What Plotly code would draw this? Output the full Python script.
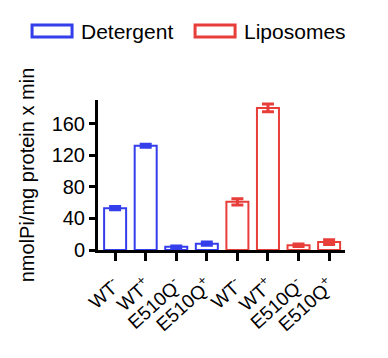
import plotly.graph_objects as go

labels = ["WT<sup>-</sup>", "WT<sup>+</sup>", "E510Q<sup>-</sup>", "E510Q<sup>+</sup>"]
detergent = [53, 132, 4, 8]
detergent_err = [2, 2, 1, 2]
liposomes = [61, 180, 6, 10]
liposomes_err = [4, 5, 1.5, 3]

blue = "rgb(52,62,235)"
red = "rgb(232,62,58)"
font = "Liberation Sans, Arial, sans-serif"

pos_det = list(range(4))
pos_lip = list(range(4, 8))

fig = go.Figure()
fig.add_trace(go.Bar(
    x=pos_det, y=detergent, width=0.72, name="Detergent",
    marker=dict(color="white", line=dict(color=blue, width=2)),
    error_y=dict(type="data", array=detergent_err, color=blue, thickness=3, width=6),
))
fig.add_trace(go.Bar(
    x=pos_lip, y=liposomes, width=0.72, name="Liposomes",
    marker=dict(color="white", line=dict(color=red, width=2)),
    error_y=dict(type="data", array=liposomes_err, color=red, thickness=3, width=6),
))

fig.update_layout(
    width=388, height=358,
    margin=dict(l=90, r=51, t=92, b=116),
    plot_bgcolor="white", paper_bgcolor="white",
    showlegend=False,
    font=dict(family=font, color="black"),
)
fig.update_xaxes(
    range=[-0.56, 7.52], automargin=False,
    tickvals=pos_det + pos_lip, ticktext=labels + labels,
    tickangle=-42, tickfont=dict(size=19), ticklabelstandoff=6,
    showline=True, linecolor="black", linewidth=3,
    ticks="outside", ticklen=8, tickwidth=3, tickcolor="black",
    showgrid=False, zeroline=False,
)
fig.update_yaxes(
    range=[0, 190], automargin=False,
    tickvals=[0, 40, 80, 120, 160],
    tickfont=dict(size=20),
    showline=True, linecolor="black", linewidth=3,
    ticks="outside", ticklen=6, tickwidth=3, tickcolor="black",
    showgrid=False, zeroline=False,
    title=dict(text="nmolPi/mg protein x min", font=dict(size=20), standoff=12),
)

# custom legend
for x0, col, txt in [(-0.267, blue, "Detergent"), (0.393, red, "Liposomes")]:
    fig.add_shape(type="rect", xref="paper", yref="paper",
                  x0=x0, x1=x0 + 0.162, y0=1.42, y1=1.5,
                  line=dict(color=col, width=3), fillcolor="white")
    fig.add_annotation(xref="paper", yref="paper", x=x0 + 0.19, y=1.46,
                       text=txt, showarrow=False, xanchor="left", yanchor="middle",
                       font=dict(size=21, family=font, color="black"))

fig.write_html("out.html")
